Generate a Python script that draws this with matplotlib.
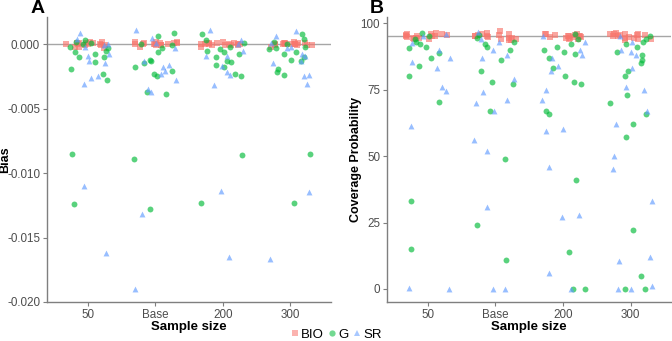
import numpy as np
import matplotlib.pyplot as plt

groups = ["50", "Base", "200", "300"]

# Bias values (panel A)
bias_bio = {
    "50": [0.0001, -0.0001, 0.0, -0.0002, 0.0001, -0.0003, 0.0, 0.0002, -0.0001, 0.0001, -0.0002, 0.0, 0.0001, -0.0001, 0.0, 0.0002],
    "Base": [0.0001, 0.0, -0.0001, 0.0002, 0.0, -0.0002, 0.0001, 0.0, 0.0002, -0.0001, 0.0, 0.0001, -0.0001, 0.0002, 0.0, 0.0001],
    "200": [0.0, 0.0001, -0.0001, 0.0, 0.0001, -0.0002, 0.0, 0.0001, -0.0001, 0.0, 0.0002, -0.0001, 0.0, 0.0001, 0.0, -0.0001],
    "300": [0.0, -0.0001, 0.0001, 0.0, -0.0002, 0.0001, 0.0, -0.0001, 0.0001, 0.0, -0.0001, 0.0002, 0.0, -0.0001, 0.0001, 0.0],
}
bias_g = {
    "50": [0.0003, 0.0002, 0.0, -0.0002, -0.0003, -0.0006, -0.0008, -0.001, -0.001, -0.0014, -0.0019, -0.0023, -0.0028, -0.0005, 0.0001, -0.0085, -0.0124],
    "Base": [0.0009, 0.0006, 0.0, -0.0001, -0.0003, -0.0006, -0.0012, -0.0013, -0.0015, -0.0018, -0.0021, -0.0023, -0.0025, -0.0037, -0.0039, -0.0089, -0.0128],
    "200": [0.0008, 0.0003, 0.0001, -0.0002, -0.0004, -0.0006, -0.0008, -0.001, -0.0013, -0.0014, -0.0016, -0.0018, -0.0023, -0.0025, -0.0005, -0.0086, -0.0123],
    "300": [0.0008, 0.0004, 0.0002, 0.0, -0.0002, -0.0004, -0.0006, -0.001, -0.0012, -0.0013, -0.0019, -0.0022, -0.0024, -0.0003, -0.0008, -0.0085, -0.0123],
}
bias_sr = {
    "50": [0.0009, 0.0004, 0.0, -0.0002, -0.0008, -0.0009, -0.0013, -0.0015, -0.0025, -0.0026, -0.0031, -0.0001, -0.0110, -0.0162],
    "Base": [0.0011, 0.0005, 0.0001, -0.0003, -0.0013, -0.0016, -0.0018, -0.0021, -0.0023, -0.0028, -0.0035, -0.0037, -0.0132, -0.0190],
    "200": [0.0011, 0.0003, 0.0, -0.0009, -0.0009, -0.0017, -0.0022, -0.0024, -0.0032, -0.0005, -0.0114, -0.0165],
    "300": [0.001, 0.0006, 0.0001, -0.0003, -0.0008, -0.0009, -0.0013, -0.0015, -0.0024, -0.0025, -0.0031, -0.0002, -0.0115, -0.0167],
}

# Coverage probability values (panel B)
cov_bio = {
    "50": [96, 95.5, 95, 94.5, 94, 95.8, 94.8, 95.2, 94.3, 96.2, 95, 94.6, 95.4, 94.1, 95.9, 95.1],
    "Base": [97, 96, 95.5, 95, 94.5, 94, 93.5, 95.2, 94.8, 96.3, 95.7, 94.2, 93.8, 95, 94.6, 95.9],
    "200": [96, 95.6, 95.2, 94.8, 94.4, 94, 95, 95.8, 94.6, 95.3, 94.2, 96.1, 95.5, 94.9, 95.1, 94.7],
    "300": [96.3, 95.8, 95.4, 95, 94.6, 94.2, 93.8, 95.6, 94.8, 96, 95.2, 94.4, 95.9, 94.1, 95.5, 96.1],
}
cov_g = {
    "50": [96.2, 95, 94, 93, 92, 91, 90.5, 88.7, 87, 84, 80, 70.4, 33, 15],
    "Base": [95.5, 94.5, 93, 92, 91, 90, 86, 82, 78, 77, 67, 49, 24, 11],
    "200": [96, 94, 92, 91, 90, 89, 88.5, 87, 83, 80, 78, 77, 67, 66, 41, 14, 0, 0],
    "300": [95, 94, 93, 92, 91, 89, 88, 86, 85, 82, 80, 73, 70, 66, 62, 57, 22, 5, 0, 0],
}
cov_sr = {
    "50": [96, 95, 92.5, 90, 86.8, 85.3, 83, 76, 74.5, 61.3, 0.5, 0],
    "Base": [96.5, 94, 93, 90, 88, 87, 79, 74, 71, 70, 67, 56, 52, 31, 0, 0],
    "200": [95, 93, 90, 88, 87, 84, 82, 75, 71, 60, 59.5, 46, 28, 27, 6, 0],
    "300": [95, 93, 90, 89, 88, 83, 76, 75, 67, 62, 50, 45, 33, 12, 10.5, 1, 0, 0],
}

colors = {"BIO": "#F8766D", "G": "#00BA38", "SR": "#619CFF"}
markers = {"BIO": "s", "G": "o", "SR": "^"}

plt.rcParams["font.family"] = ["Liberation Sans", "DejaVu Sans"]

fig = plt.figure(figsize=(6.72, 3.41), dpi=100)
axA = fig.add_axes([0.070, 0.1144, 0.4226, 0.8356])
axB = fig.add_axes([0.576, 0.1144, 0.423, 0.8356])

rng = np.random.default_rng(7)


def draw(ax, series):
    for name, data in series:
        for i, g in enumerate(groups):
            vals = np.array(data[g])
            xs = i + 1 + rng.uniform(-0.33, 0.33, len(vals))
            ax.scatter(xs, vals, s=18, marker=markers[name], color=colors[name],
                       alpha=0.65, linewidths=0, zorder=3)


draw(axA, [("BIO", bias_bio), ("G", bias_g), ("SR", bias_sr)])
draw(axB, [("BIO", cov_bio), ("G", cov_g), ("SR", cov_sr)])

axA.axhline(0, color="#A6A6A6", lw=1, zorder=2)
axB.axhline(95, color="#A6A6A6", lw=1, zorder=2)

axA.set_ylim(-0.0200, 0.0021)
axA.set_yticks([0.0, -0.005, -0.010, -0.015, -0.020])
axA.set_yticklabels(["0.000", "-0.005", "-0.010", "-0.015", "-0.020"])
axB.set_ylim(-4.9, 102.3)
axB.set_yticks([0, 25, 50, 75, 100])

for ax, lab, ylab, lx in [(axA, "A", "Bias", -0.126), (axB, "B", "Coverage Probability", -0.088)]:
    ax.set_xlim(0.4, 4.6)
    ax.set_xticks(range(1, 5))
    ax.set_xticklabels(groups)
    for s in ["top", "right"]:
        ax.spines[s].set_visible(False)
    for s in ["left", "bottom"]:
        ax.spines[s].set_color("#7F7F7F")
        ax.spines[s].set_linewidth(1.0)
    ax.tick_params(colors="#4D4D4D", labelsize=8.4, length=3, width=0.8, pad=2)
    ax.tick_params(axis="both", color="#7F7F7F")
    ax.set_xlabel("Sample size", fontsize=9.5, fontweight="bold", labelpad=0)
    ax.set_ylabel(ylab, fontsize=9.0, fontweight="bold")
    ax.yaxis.set_label_coords(lx, 0.5)
    ax.text(-0.01, 1.0, lab, transform=ax.transAxes, fontsize=14,
            fontweight="bold", ha="right", va="bottom")

handles = [plt.Line2D([], [], marker=markers[k], color=colors[k], alpha=0.55,
                      linestyle="none", markersize=4.5, markeredgewidth=0)
           for k in ["BIO", "G", "SR"]]
fig.legend(handles, ["BIO", "G", "SR"], loc="lower center",
           bbox_to_anchor=(0.5, -0.035), ncol=3, frameon=False, fontsize=9.5,
           handletextpad=0.1, columnspacing=0.3, handlelength=0.7)

fig.savefig("out.png", dpi=100)
